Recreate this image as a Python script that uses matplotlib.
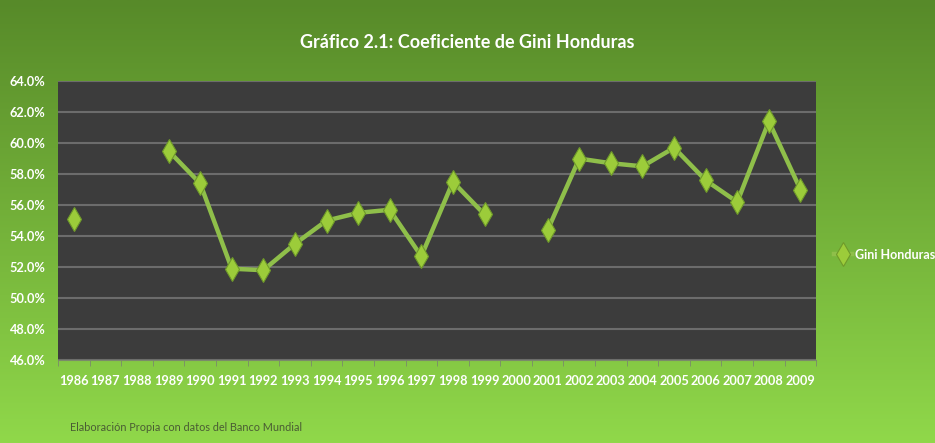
import numpy as np
import matplotlib
matplotlib.use("Agg")
import matplotlib.pyplot as plt
from matplotlib.ticker import FuncFormatter, FixedLocator

years = [str(y) for y in range(1986, 2010)]
gini = [55.1, np.nan, np.nan, 59.5, 57.4, 51.9, 51.8, 53.5, 55.0, 55.5,
        55.7, 52.7, 57.5, 55.4, np.nan, 54.4, 59.0, 58.7, 58.5, 59.7,
        57.6, 56.2, 61.4, 57.0]

title = "Gráfico 2.1: Coeficiente de Gini Honduras"
series_name = "Gini Honduras"
note = "Elaboración Propia con datos del Banco Mundial"

plt.rcParams["font.family"] = ["Lato", "DejaVu Sans"]

fig = plt.figure(figsize=(9.35, 4.43), dpi=100)

# gradient background
bg = fig.add_axes([0, 0, 1, 1], zorder=0)
top = np.array([0x57, 0x8a, 0x29]) / 255
bot = np.array([0x90, 0xd8, 0x4a]) / 255
t = np.linspace(0, 1, 256)[:, None]
grad = (top * (1 - t) + bot * t)[:, None, :]
bg.imshow(grad, aspect="auto", extent=[0, 1, 0, 1])
bg.axis("off")

ax = fig.add_axes([0.062, 0.187, 0.811, 0.63], zorder=1)
ax.set_facecolor("#3c3c3c")

x = np.arange(len(years))
ax.plot(x, gini, color="#8fbf4a", lw=3.2, marker="d", ms=12,
        markerfacecolor="#9ccc3a", markeredgecolor="#6f9a2a", mew=0.8,
        label=series_name, zorder=3)

ax.set_xlim(-0.5, len(years) - 0.5)
ax.set_ylim(46, 64)
ax.set_yticks(np.arange(46, 64.1, 2))
ax.yaxis.set_major_formatter(FuncFormatter(lambda v, p: f"{v:.1f}%"))
ax.set_xticks(x)
ax.set_xticklabels(years)
ax.xaxis.set_minor_locator(FixedLocator(np.arange(-0.5, len(years), 1)))
ax.tick_params(axis="x", which="major", length=0, pad=11, colors="white",
               labelsize=9.2)
ax.tick_params(axis="x", which="minor", length=4, color="#7a8a6a")
ax.tick_params(axis="y", length=0, pad=9, colors="white", labelsize=9.2)
for lab in ax.get_xticklabels() + ax.get_yticklabels():
    lab.set_fontweight("bold")

ax.grid(axis="y", color="#6c6c6c", lw=1.5)
ax.set_axisbelow(True)
for s in ["top", "right", "left"]:
    ax.spines[s].set_visible(False)
ax.spines["bottom"].set_color("#7a8a6a")

fig.text(0.5, 0.905, title, ha="center", va="center", color="white",
         fontsize=13, fontweight="bold")
fig.text(0.075, 0.036, note, ha="left", va="center", color="#4a5c34",
         fontsize=7.8)

leg = ax.legend(loc="center left", bbox_to_anchor=(0.88, 0.425),
                bbox_transform=fig.transFigure, frameon=False,
                handlelength=1.4, handletextpad=0.3, fontsize=9)
for txt in leg.get_texts():
    txt.set_color("white")
    txt.set_fontweight("bold")

fig.savefig("out.png", dpi=100)
